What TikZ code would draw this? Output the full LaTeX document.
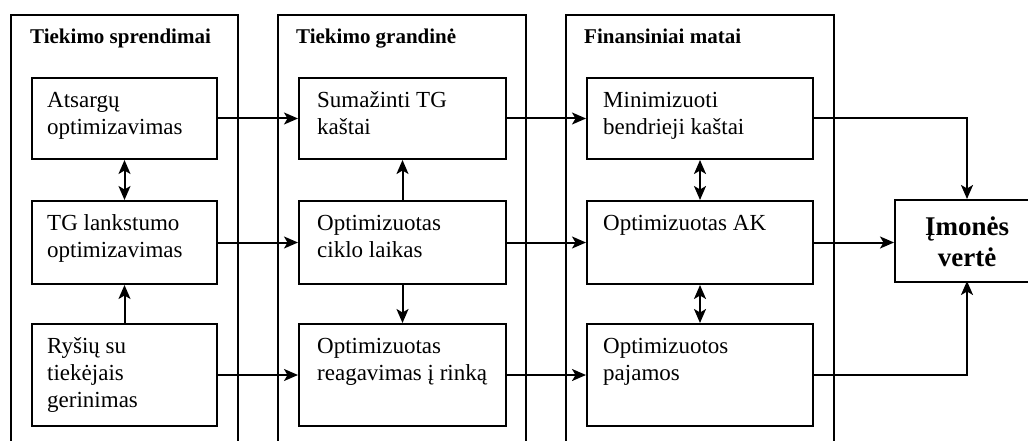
\documentclass[tikz,border=0pt]{standalone}
\usepackage{fontspec}
\setmainfont{Liberation Serif}
\usetikzlibrary{arrows.meta,positioning}

\tikzset{
  outerbox/.style={draw, line width=2pt, anchor=north west, inner sep=0pt,
    minimum height=470pt},
  inbox/.style={draw, line width=2pt, anchor=north west, inner sep=0pt},
  grouptitle/.style={anchor=base west, inner sep=0pt,
    font=\fontsize{21}{25}\selectfont\bfseries},
  boxtext/.style={anchor=north west, inner sep=0pt, align=left,
    font=\fontsize{23}{27}\selectfont},
  valuetext/.style={align=center, inner sep=0pt,
    font=\fontsize{27}{31}\selectfont\bfseries},
  tip/.tip={Stealth[length=14pt,width=12pt,inset=3.5pt]},
  link/.style={line width=2pt, -tip},
  bilink/.style={line width=2pt, tip-tip},
}

\begin{document}
\begin{tikzpicture}[x=1pt,y=-1pt]
\useasboundingbox (0,0) rectangle (1028,441);

% group frames (open at the bottom of the page)
\node[outerbox, minimum width=227pt] (g1) at (10,14) {};
\node[outerbox, minimum width=248pt] (g2) at (277,14) {};
\node[outerbox, minimum width=268pt] (g3) at (565,14) {};

\node[grouptitle] (t1) at (30,44) {Tiekimo sprendimai};
\node[grouptitle] (t2) at (296,44) {Tiekimo grandinė};
\node[grouptitle] (t3) at (584,44) {Finansiniai matai};

% column 1
\node[inbox, minimum width=185pt, minimum height=81pt]  (a1) at (31,77)  {};
\node[inbox, minimum width=185pt, minimum height=83pt]  (a2) at (31,200) {};
\node[inbox, minimum width=185pt, minimum height=102pt] (a3) at (31,323) {};
% column 2
\node[inbox, minimum width=207pt, minimum height=81pt]  (b1) at (298,77)  {};
\node[inbox, minimum width=207pt, minimum height=83pt]  (b2) at (298,200) {};
\node[inbox, minimum width=207pt, minimum height=102pt] (b3) at (298,323) {};
% column 3
\node[inbox, minimum width=226pt, minimum height=81pt]  (c1) at (586,77)  {};
\node[inbox, minimum width=226pt, minimum height=83pt]  (c2) at (586,200) {};
\node[inbox, minimum width=226pt, minimum height=102pt] (c3) at (586,323) {};
% company value
\node[inbox, minimum width=146pt, minimum height=82pt] (v) at (894,199) {};

% box texts
\node[boxtext] (a1t) at ([shift={(16,11)}]a1.north west) {\strut Atsargų\\optimizavimas};
\node[boxtext] (a2t) at ([shift={(16,11)}]a2.north west) {\strut TG lankstumo\\optimizavimas};
\node[boxtext] (a3t) at ([shift={(16,11)}]a3.north west) {\strut Ryšių su\\tiekėjais\\gerinimas};
\node[boxtext] (b1t) at ([shift={(19,11)}]b1.north west) {\strut Sumažinti TG\\kaštai};
\node[boxtext] (b2t) at ([shift={(19,11)}]b2.north west) {\strut Optimizuotas\\ciklo laikas};
\node[boxtext] (b3t) at ([shift={(19,11)}]b3.north west) {\strut Optimizuotas\\reagavimas į rinką};
\node[boxtext] (c1t) at ([shift={(17,11)}]c1.north west) {\strut Minimizuoti\\bendrieji kaštai};
\node[boxtext] (c2t) at ([shift={(17,11)}]c2.north west) {\strut Optimizuotas AK};
\node[boxtext] (c3t) at ([shift={(17,11)}]c3.north west) {\strut Optimizuotos\\pajamos};
\node[valuetext] (vt) at (967,242) {Įmonės\\vertė};

% links between columns
\draw[link] (a1.east) -- (b1.west);
\draw[link] (a2.east) -- (b2.west);
\draw[link] (a3.east) -- (b3.west);
\draw[link] (b1.east) -- (c1.west);
\draw[link] (b2.east) -- (c2.west);
\draw[link] (b3.east) -- (c3.west);

% links inside columns
\draw[bilink] (a1.south) -- (a2.north);
\draw[link] (a3.north) -- (a2.south);
\draw[link] (b2.north) -- (b1.south);
\draw[link] (b2.south) -- (b3.north);
\draw[bilink] (c1.south) -- (c2.north);
\draw[bilink] (c2.south) -- (c3.north);

% links to company value
\draw[link] (c1.east) -| (967,199);
\draw[link] (c2.east) -- (v.west |- c2.east);
\draw[link] (c3.east) -| (967,281);
\end{tikzpicture}
\end{document}
